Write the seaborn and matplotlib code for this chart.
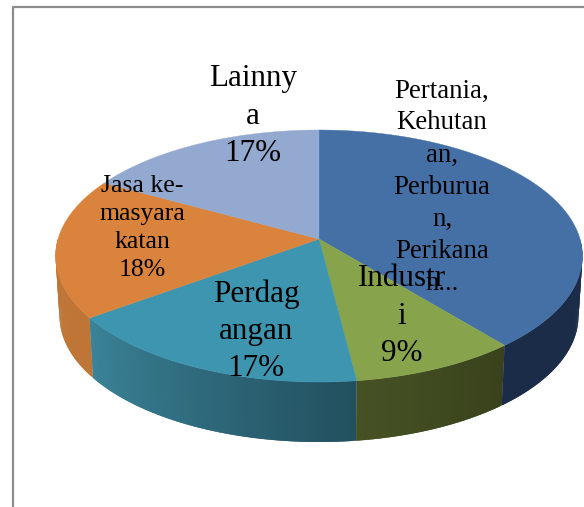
#!/usr/bin/env python3
# -*- coding: utf-8 -*-
import numpy as np
import matplotlib
matplotlib.use("Agg")
import matplotlib.pyplot as plt
import seaborn as sns

# --- DATA ---
sectors = ["Pertania,\nKehutan\nan,\nPerburua\nn,\nPerikana\nn...", "Industr\ni", "Perdag\nangan",
           "Jasa ke-\nmasyara\nkatan", "Lainny\na"]
shares = [39, 9, 17, 18, 17]
top_colors = ["#4470A6", "#87A44D", "#3E95AF", "#DA833D", "#93A9CF"]
side_left = ["#1A2C47", "#465224", "#3B8398", "#BE7536", "#7F93B5"]
side_right = ["#1A2C47", "#39421C", "#22505F", "#BE7536", "#7F93B5"]

# --- CONFIG ---
CX, CY = 319, 239
RX, RY, TILT = 261, 123.7, 0.135
DEPTH = 60
BOTTOM_SCALE = 0.985
LINE_SPACING = 1.37


def rim(theta, scale=1.0, drop=0):
    """Project clockwise-from-top angles onto the tilted pie."""
    u, v = np.sin(theta), np.cos(theta)
    w = 1 + TILT * v
    return CX + scale * RX * u / w, CY - RY * v / w + drop


def draw_side(ax, start, end, left, right):
    """Outer wall of one slice, only where it faces the viewer."""
    lo, hi = max(start, np.pi / 2), min(end, 3 * np.pi / 2)
    if lo >= hi:
        return
    edges = np.linspace(lo, hi, 61)
    # wall runs right to left as the angle grows
    shades = sns.blend_palette([right, left], 60)
    # each strip overlaps the next one so no seams show up
    for i, c in enumerate(shades):
        th = np.linspace(edges[i], edges[min(i + 2, 60)], 4)
        x0, y0 = rim(th)
        x1, y1 = rim(th, BOTTOM_SCALE, DEPTH)
        ax.fill(np.r_[x0, x1[::-1]], np.r_[y0, y1[::-1]], color=c, lw=0, zorder=2 + i * 0.001)


def main():
    sns.set_theme(style="white")
    plt.rcParams["font.family"] = ["Liberation Serif", "DejaVu Serif"]

    fig = plt.figure(figsize=(5.84, 5.07), dpi=100)
    ax = fig.add_axes([0, 0, 1, 1])
    ax.set_xlim(0, 584)
    ax.set_ylim(507, 0)
    ax.axis("off")

    bounds = np.r_[0, np.cumsum(shares)] / np.sum(shares) * 2 * np.pi

    for i in range(len(shares)):
        draw_side(ax, bounds[i], bounds[i + 1], side_left[i], side_right[i])

    for i in range(len(shares)):
        th = np.linspace(bounds[i], bounds[i + 1], 120)
        x, y = rim(th)
        ax.fill(np.r_[CX, x], np.r_[CY, y], color=top_colors[i], lw=0.3, zorder=3)

    # chart frame
    ax.plot([13, 13, 584], [507, 7, 7], color="#8C8C8C", lw=1.6, zorder=1)

    # labels
    ax.text(253, 116, f"{sectors[4]}\n{shares[4]}%", fontsize=22.4, ha="center", va="center",
            linespacing=LINE_SPACING, color="black", zorder=5)
    ax.text(442, 187, sectors[0], fontsize=19.4, ha="center", va="center",
            linespacing=LINE_SPACING, color="black", zorder=5)
    ax.text(142, 228, f"{sectors[3]}\n{shares[3]}%", fontsize=18.5, ha="center", va="center",
            linespacing=LINE_SPACING, color="black", zorder=5)
    ax.text(256, 331, f"{sectors[2]}\n{shares[2]}%", fontsize=22.4, ha="center", va="center",
            linespacing=LINE_SPACING, color="black", zorder=5)
    ax.text(402, 316, f"{sectors[1]}\n{shares[1]}%", fontsize=22.4, ha="center", va="center",
            linespacing=LINE_SPACING, color="black", zorder=6)

    fig.savefig("out.png", dpi=100)


if __name__ == "__main__":
    main()
